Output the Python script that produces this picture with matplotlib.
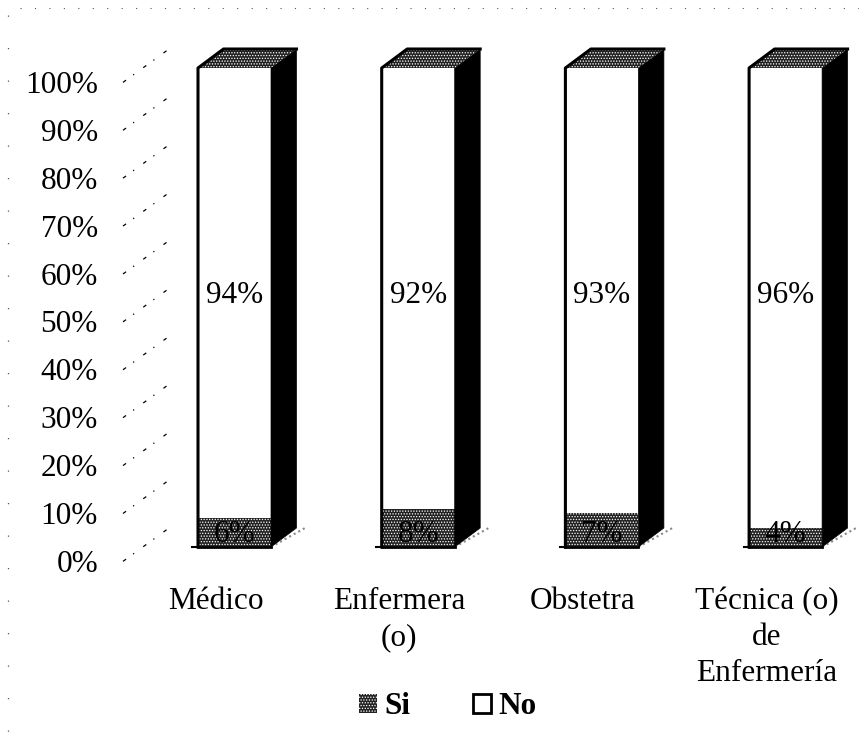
import matplotlib
matplotlib.use("Agg")
import matplotlib.pyplot as plt
from matplotlib.lines import Line2D
from matplotlib.patches import Patch, Polygon
from matplotlib.transforms import ScaledTranslation

categories = ["Médico", "Enfermera\n(o)", "Obstetra", "Técnica (o)\nde\nEnfermería"]
si = [6, 8, 7, 4]
no = [94, 92, 93, 96]
ticks = list(range(0, 101, 10))
tick_labels = [f"{t}%" for t in ticks]

plt.rcParams["font.family"] = ["Liberation Serif", "DejaVu Serif"]
plt.rcParams["hatch.linewidth"] = 0.6

W, H = 859, 746
fs = 22.5
fig = plt.figure(figsize=(W / 100, H / 100), dpi=100)

# axes box is the front plane: 0% at y=547, 100% at y=68
ax = fig.add_axes([123 / W, 1 - 547 / H, (W - 123) / W, (547 - 68) / H])
step = 183.7
ax.set_xlim((123 - 234.5) / step, (W - 234.5) / step)
ax.set_ylim(0, 100)
for s in ax.spines.values():
    s.set_visible(False)

bar_w = 73 / step
dx = 25.5 / step
dy = 19 / 4.79
x = list(range(len(categories)))

ax.bar(x, si, width=bar_w, color="#222222", edgecolor="white", hatch="......", lw=0, zorder=3)
ax.bar(x, no, bottom=si, width=bar_w, color="white", lw=0, zorder=3)

for i in x:
    l, r = i - bar_w / 2, i + bar_w / 2
    # black side face
    ax.add_patch(Polygon([(r, 0), (r + dx, dy), (r + dx, 100 + dy), (r, 100)],
                         fc="black", ec="black", lw=0.5, zorder=4, clip_on=False))
    # stippled top face
    ax.add_patch(Polygon([(l, 100), (l + dx, 100 + dy), (r + dx, 100 + dy), (r, 100)],
                         fc="#222222", ec="white", hatch="......", lw=0, zorder=4, clip_on=False))
    ax.plot([l, l, l + dx, r + dx], [0, 100, 100 + dy, 100 + dy], color="black", lw=2.2, zorder=5,
            clip_on=False, solid_joinstyle="round")
    ax.plot([l, r], [0, 0], color="black", lw=2, zorder=5, clip_on=False)
    # leftovers of the floor
    ax.plot([r, r + dx * 1.4], [0, dy * 1.05], color="#888888", lw=1.5, ls=(0, (1, 1.5)), zorder=2, clip_on=False)
    ax.plot([l - 0.03, l], [0, 0], color="black", lw=1.5, zorder=2, clip_on=False)
    ax.text(i, 52.6, f"{no[i]}%", ha="center", va="center", fontsize=fs, zorder=6)
    ax.text(i, 2.7, f"{si[i]}%", ha="center", va="center", fontsize=fs, zorder=6)

# y axis, labels sit 14 px below the front plane values
ax.set_yticks(ticks)
ax.set_yticklabels(tick_labels, fontsize=fs)
ax.tick_params(axis="y", length=0, pad=18)
for lab in ax.get_yticklabels():
    lab.set_transform(lab.get_transform() + ScaledTranslation(0, -14 / 100, fig.dpi_scale_trans))

ax.set_xticks(x)
ax.set_xticklabels(categories, fontsize=fs, linespacing=1.3)
ax.tick_params(axis="x", length=0, pad=29)
for lab in ax.get_xticklabels():
    lab.set_transform(lab.get_transform() + ScaledTranslation(-19 / 100, 0, fig.dpi_scale_trans))

# broken wall gridlines left of the bars
for t in ticks:
    ax.plot([0 - 111.5 / step, 0 - 66 / step], [t - 3, t - 3 + 33 / 4.79], color="black", lw=0.9,
            ls=(0, (3, 7, 1, 9)), clip_on=False, zorder=1)

handles = [Patch(fc="#222222", ec="white", hatch="......", lw=0), Patch(fc="white", ec="black", lw=2)]
fig.legend(handles, ["Si", "No"], ncol=2, loc="center", bbox_to_anchor=(448 / W, 1 - 707 / H),
           frameon=False, prop={"weight": "bold", "size": fs}, handlelength=0.57, handleheight=0.57,
           handletextpad=0.25, columnspacing=2.0)

# scan specks along the page edges
fig.add_artist(Line2D([20 / W, 1], [1 - 8 / H, 1 - 8 / H], color="#555555", lw=0.8, ls=(0, (1, 12))))
fig.add_artist(Line2D([8 / W, 8 / W], [1 - 15 / H, 1 - 740 / H], color="#555555", lw=0.9, ls=(0, (1, 25))))

fig.savefig("out.png", dpi=100)
